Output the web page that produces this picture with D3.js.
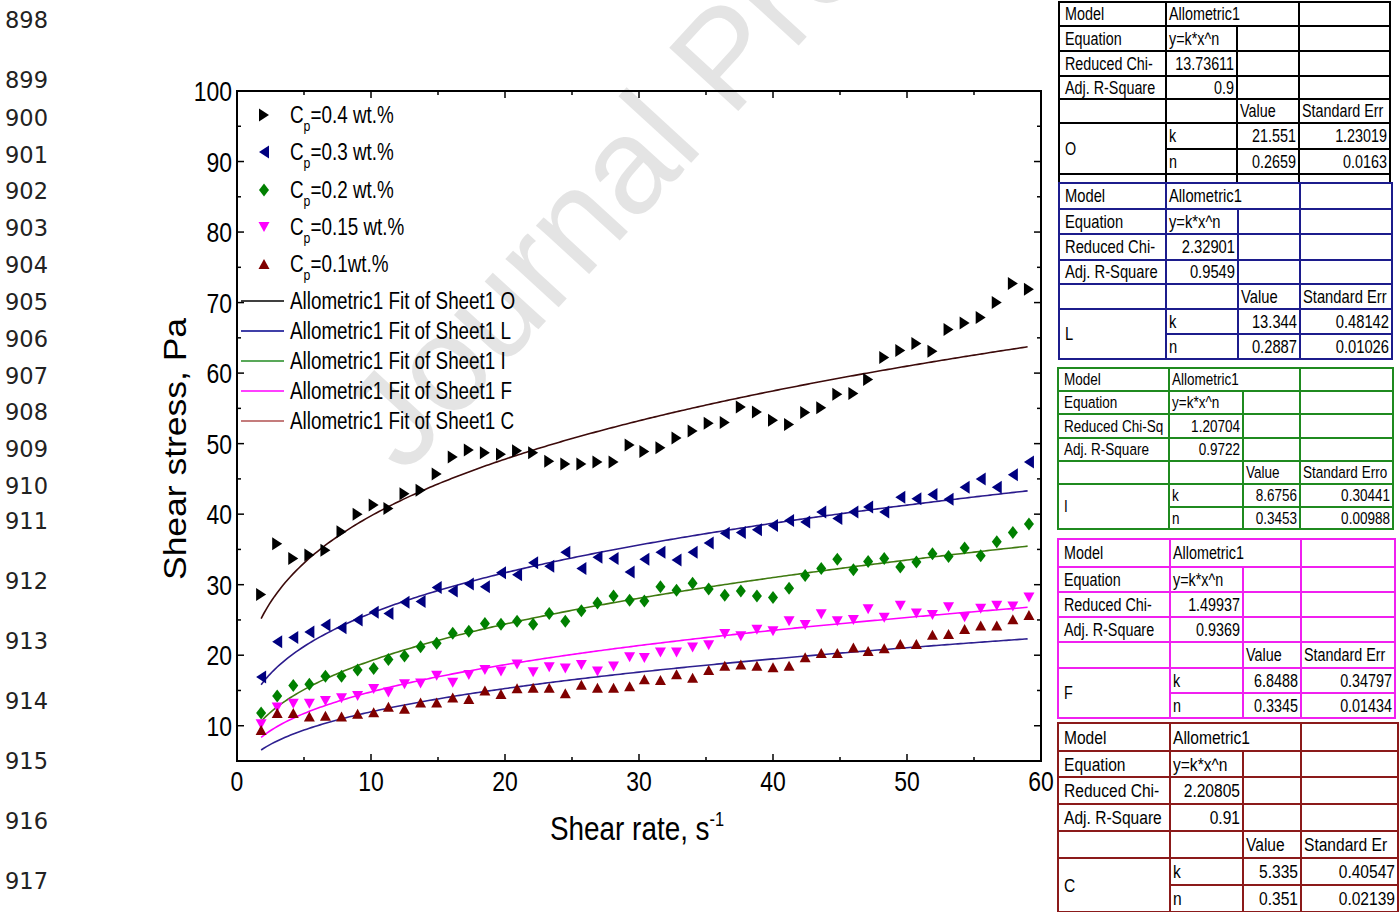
<!DOCTYPE html>
<html>
<head>
<meta charset="utf-8">
<script src="https://cdn.jsdelivr.net/npm/d3@7"></script>
<style>
  body { margin: 0; background: #fff; }
  svg text { font-family: "Liberation Sans", Arial, sans-serif; }
</style>
</head>
<body>
<div id="chart"></div>
<script>
// shear rate values (s^-1), shared by all series
var shearRate = [1.8, 3.0, 4.2, 5.4, 6.6, 7.8, 9.0, 10.2, 11.3, 12.5, 13.7, 14.9, 16.1, 17.3, 18.5,
  19.7, 20.9, 22.1, 23.3, 24.5, 25.7, 26.9, 28.1, 29.3, 30.4, 31.6, 32.8, 34.0, 35.2, 36.4, 37.6,
  38.8, 40.0, 41.2, 42.4, 43.6, 44.8, 46.0, 47.1, 48.3, 49.5, 50.7, 51.9, 53.1, 54.3, 55.5, 56.7,
  57.9, 59.1];

// shear stress (Pa) for each concentration
var stressO = [28.6, 35.8, 33.7, 34.2, 34.9, 37.5, 40.0, 41.3, 40.8, 42.9, 43.4, 45.7, 48.1, 49.1,
  48.7, 48.5, 49.0, 48.7, 47.5, 47.1, 47.1, 47.4, 47.4, 49.8, 48.9, 49.4, 50.8, 51.8, 52.9, 53.0,
  55.2, 54.5, 53.3, 52.7, 54.4, 55.1, 57.0, 57.1, 59.1, 62.2, 63.2, 64.2, 63.1, 66.2, 67.1, 67.9,
  70.0, 72.7, 71.9];
var stressL = [16.9, 21.9, 22.5, 23.3, 24.3, 23.9, 25.0, 26.1, 25.9, 27.5, 27.6, 29.6, 29.1, 30.1,
  29.7, 31.7, 31.4, 33.1, 32.6, 34.6, 32.3, 33.9, 33.7, 31.8, 33.6, 34.6, 33.5, 34.6, 35.9, 37.3,
  37.4, 37.8, 38.4, 39.1, 38.9, 40.3, 39.4, 40.3, 41.0, 40.3, 42.4, 42.2, 42.8, 42.1, 43.8, 45.0,
  43.8, 45.6, 47.4];
var stressI = [11.8, 14.2, 15.7, 15.9, 17.0, 17.0, 17.9, 18.1, 19.4, 19.9, 21.2, 21.7, 23.1, 23.4,
  24.5, 24.4, 24.8, 24.4, 25.9, 24.8, 26.3, 27.4, 28.4, 27.8, 27.7, 29.7, 29.2, 30.2, 29.4, 28.5,
  29.1, 28.4, 28.2, 29.5, 31.3, 32.3, 33.6, 32.1, 33.3, 33.7, 32.5, 33.2, 34.4, 34.0, 35.2, 34.1,
  36.1, 37.4, 38.6];
var stressF = [10.2, 12.6, 13.1, 13.1, 13.5, 13.9, 14.2, 15.2, 14.7, 15.9, 16.0, 17.1, 16.1, 17.2,
  17.9, 17.7, 18.7, 17.6, 18.3, 18.1, 18.6, 17.7, 18.4, 19.7, 19.6, 20.4, 20.4, 21.1, 21.4, 23.0,
  22.7, 23.6, 23.4, 24.8, 24.3, 25.8, 24.8, 25.0, 26.5, 25.3, 27.0, 25.9, 25.7, 26.8, 25.4, 26.6,
  27.0, 26.9, 28.2];
var stressC = [9.4, 11.8, 11.8, 11.3, 11.4, 11.3, 11.7, 11.9, 12.7, 12.4, 13.3, 13.3, 14.0, 13.8,
  15.0, 14.5, 15.3, 15.4, 15.4, 14.6, 15.8, 15.4, 15.4, 15.6, 16.6, 16.5, 17.3, 16.8, 17.9, 18.5,
  18.7, 18.5, 18.3, 18.5, 19.7, 20.3, 20.3, 21.1, 20.6, 21.0, 21.6, 21.6, 22.9, 23.0, 23.7, 24.2,
  24.2, 25.1, 25.7];

var seriesLabels = ["0.4 wt.%", "0.3 wt.%", "0.2 wt.%", "0.15 wt.%", "0.1wt.%"];

// allometric fit results  y = k*x^n
var fitNames = ["O", "L", "I", "F", "C"];
var fitK = [21.551, 13.344, 8.6756, 6.8488, 5.335];
var fitN = [0.2659, 0.2887, 0.3453, 0.3345, 0.351];
var kErr = ["1.23019", "0.48142", "0.30441", "0.34797", "0.40547"];
var nErr = ["0.0163", "0.01026", "0.00988", "0.01434", "0.02139"];
var chiLabel = ["Reduced Chi-", "Reduced Chi-", "Reduced Chi-Sq", "Reduced Chi-", "Reduced Chi-"];
var chiVal = ["13.73611", "2.32901", "1.20704", "1.49937", "2.20805"];
var adjR = ["0.9", "0.9549", "0.9722", "0.9369", "0.91"];
var errHeader = ["Standard Err", "Standard Err", "Standard Erro", "Standard Err", "Standard Er"];

var xTicks = [0, 10, 20, 30, 40, 50, 60];
var yTicks = [10, 20, 30, 40, 50, 60, 70, 80, 90, 100];
var lineNumbers = [898, 899, 900, 901, 902, 903, 904, 905, 906, 907, 908, 909, 910, 911, 912, 913, 914, 915, 916, 917];

// ---- layout ----
var width = 1399, height = 912;
var plotL = 237, plotR = 1041, plotT = 91, plotB = 761;
var narrow = 0.82; // squeeze Liberation Sans to look like Arial Narrow

var svg = d3.select("#chart").append("svg")
  .attr("width", width)
  .attr("height", height);

// text helper: narrow text placed at x, y
function ntext(parent, x, y, size, anchor) {
  return parent.append("text")
    .attr("transform", "translate(" + x + "," + y + ") scale(" + narrow + ",1)")
    .attr("text-anchor", anchor || "start")
    .style("font-size", size + "px");
}

// line numbers from the manuscript page
var lineNumY = [20, 80, 118, 155, 191, 228, 265, 302, 339, 376, 412, 449, 486, 521, 581, 641, 701, 761, 821, 881];
svg.append("g").selectAll("text")
  .data(lineNumbers)
  .enter().append("text")
  .attr("x", 5)
  .attr("y", function(d, i) { return lineNumY[i] + 8; })
  .style("font-family", "'DejaVu Sans', sans-serif")
  .style("font-size", "22.5px")
  .attr("fill", "#222")
  .text(function(d) { return d; });

var xScale = d3.scaleLinear().domain([0, 60]).range([plotL, plotR]);
var yScale = d3.scaleLinear().domain([5, 100]).range([plotB, plotT]);

// watermark
svg.append("text")
  .attr("transform", "translate(404,476) rotate(-47.5)")
  .style("font-size", "136px")
  .attr("fill", "#e4e4e4")
  .text("Journal Pre-proof");

// tick marks pointing inward on all four sides
function tickMarks(vals, major, isX) {
  var g = svg.append("g").attr("stroke", "#000").attr("stroke-width", 1.5);
  vals.forEach(function(v) {
    var len = (major.indexOf(v) >= 0) ? 7 : 4;
    if (isX) {
      var x = xScale(v);
      g.append("line").attr("x1", x).attr("x2", x).attr("y1", plotB).attr("y2", plotB - len);
      g.append("line").attr("x1", x).attr("x2", x).attr("y1", plotT).attr("y2", plotT + len);
    } else {
      var y = yScale(v);
      g.append("line").attr("x1", plotL).attr("x2", plotL + len).attr("y1", y).attr("y2", y);
      g.append("line").attr("x1", plotR).attr("x2", plotR - len).attr("y1", y).attr("y2", y);
    }
  });
}
tickMarks(d3.range(5, 60, 5), xTicks, true);
tickMarks(d3.range(10, 100, 5), yTicks, false);

svg.append("rect")
  .attr("x", plotL).attr("y", plotT)
  .attr("width", plotR - plotL).attr("height", plotB - plotT)
  .attr("fill", "none").attr("stroke", "#000").attr("stroke-width", 2);

var gxl = svg.append("g");
xTicks.forEach(function(d) {
  ntext(gxl, xScale(d), plotB + 30, 28, "middle").text(d);
});
var gyl = svg.append("g");
yTicks.forEach(function(d) {
  ntext(gyl, plotL - 5, yScale(d) + 10, 28, "end").text(d);
});

// axis titles
var xt = ntext(svg, 550, 840, 34);
xt.append("tspan").text("Shear rate, s");
xt.append("tspan").attr("dy", -14).style("font-size", "20px").text("-1");

svg.append("text")
  .attr("transform", "translate(186,449) rotate(-90)")
  .attr("text-anchor", "middle")
  .style("font-size", "31px")
  .attr("textLength", 262)
  .attr("lengthAdjust", "spacingAndGlyphs")
  .text("Shear stress, Pa");

// markers
var markerColor = ["#000000", "#000080", "#008000", "#ff00ff", "#800000"];
var markerPath = [
  "M-5,-6.5L5,0L-5,6.5Z",        // right triangle
  "M5,-6.5L-5,0L5,6.5Z",         // left triangle
  "M0,-6.5L5,0L0,6.5L-5,0Z",     // diamond
  "M-5.5,-5L5.5,-5L0,5Z",        // down triangle
  "M-5.5,5L5.5,5L0,-5Z"          // up triangle
];
var allStress = [stressO, stressL, stressI, stressF, stressC];

// fitted curves
var fitColor = ["#3c0a0a", "#2a1a8c", "#3f7a10", "#ff00ff", "#2e2090"];
var fitLine = d3.line()
  .x(function(d) { return xScale(d[0]); })
  .y(function(d) { return yScale(d[1]); });
var xFine = d3.range(shearRate[0], shearRate[shearRate.length - 1] + 0.001, 0.2);
fitK.forEach(function(k, i) {
  var pts = xFine.map(function(x) { return [x, k * Math.pow(x, fitN[i])]; });
  svg.append("path")
    .attr("d", fitLine(pts))
    .attr("fill", "none")
    .attr("stroke", fitColor[i])
    .attr("stroke-width", 1.6);
});

allStress.forEach(function(series, i) {
  svg.append("g").selectAll("path")
    .data(series).enter().append("path")
    .attr("d", markerPath[i])
    .attr("transform", function(d, j) {
      return "translate(" + xScale(shearRate[j]) + "," + yScale(d) + ")";
    })
    .attr("fill", markerColor[i]);
});

// legend
var legSymY = [115, 152, 190, 227, 264];
var legLineY = [301, 331, 361, 391, 421];
var legLineColor = ["#000000", "#00008b", "#228b22", "#ff00ff", "#b05050"];
seriesLabels.forEach(function(lab, i) {
  svg.append("path")
    .attr("d", markerPath[i])
    .attr("transform", "translate(264," + legSymY[i] + ")")
    .attr("fill", markerColor[i]);
  var t = ntext(svg, 290, legSymY[i] + 8, 23);
  t.append("tspan").text("C");
  t.append("tspan").attr("dy", 8).style("font-size", "15px").text("p");
  t.append("tspan").attr("dy", -8).text("=" + lab);
});
fitNames.forEach(function(nm, i) {
  svg.append("line")
    .attr("x1", 241).attr("x2", 284)
    .attr("y1", legLineY[i]).attr("y2", legLineY[i])
    .attr("stroke", legLineColor[i]).attr("stroke-width", 1.5);
  ntext(svg, 290, legLineY[i] + 8, 23).text("Allometric1 Fit of Sheet1 " + nm);
});

// result tables
var tableX = [[1059, 1166, 1237, 1299, 1390], [1059, 1166, 1238, 1300, 1392], [1058, 1169, 1243, 1300, 1393],
  [1058, 1170, 1243, 1301, 1395], [1058, 1170, 1243, 1301, 1398]];
var tableY = [[2, 26, 51, 76, 99, 123, 149, 174], [183, 209, 234, 260, 284, 309, 334, 359],
  [368, 391, 414, 438, 461, 484, 507, 529], [539, 567, 592, 617, 642, 668, 693, 718],
  [723, 751, 777, 804, 831, 858, 885, 912]];
var tableFont = [17.5, 18, 16.5, 17.5, 19];
var tableColor = ["#000000", "#1c1c8c", "#1f8a1f", "#f020f0", "#8b1a1a"];

function drawTable(i) {
  var X = tableX[i], Y = tableY[i];
  var g = svg.append("g");
  var col = tableColor[i];
  if (i === 0) {
    // a further row cut off by the next table
    X.forEach(function(x) {
      g.append("line").attr("x1", x).attr("x2", x).attr("y1", Y[7]).attr("y2", Y[7] + 10)
        .attr("stroke", col).attr("stroke-width", 2);
    });
  }
  g.append("rect").attr("x", X[0]).attr("y", Y[0])
    .attr("width", X[4] - X[0]).attr("height", Y[7] - Y[0])
    .attr("fill", "#fff").attr("stroke", col).attr("stroke-width", 2);
  for (var r = 1; r < 7; r++) {
    g.append("line")
      .attr("x1", r === 6 ? X[1] : X[0]).attr("x2", X[4])
      .attr("y1", Y[r]).attr("y2", Y[r])
      .attr("stroke", col).attr("stroke-width", 2);
  }
  g.append("line").attr("x1", X[1]).attr("x2", X[1]).attr("y1", Y[0]).attr("y2", Y[7]).attr("stroke", col).attr("stroke-width", 2);
  g.append("line").attr("x1", X[2]).attr("x2", X[2]).attr("y1", Y[1]).attr("y2", Y[7]).attr("stroke", col).attr("stroke-width", 2);
  g.append("line").attr("x1", X[3]).attr("x2", X[3]).attr("y1", Y[0]).attr("y2", Y[7]).attr("stroke", col).attr("stroke-width", 2);

  var fs = tableFont[i];
  function cell(txt, c, r0, r1, align) {
    var yc = (Y[r0] + Y[r1]) / 2 + fs * 0.36;
    var x = align === "end" ? X[c + 1] - 3 : X[c] + (c === 0 ? 6 : 3);
    ntext(g, x, yc, fs, align === "end" ? "end" : "start").attr("fill", "#000").text(txt);
  }
  cell("Model", 0, 0, 1);
  cell("Allometric1", 1, 0, 1);
  cell("Equation", 0, 1, 2);
  cell("y=k*x^n", 1, 1, 2);
  cell(chiLabel[i], 0, 2, 3);
  cell(chiVal[i], 1, 2, 3, "end");
  cell("Adj. R-Square", 0, 3, 4);
  cell(adjR[i], 1, 3, 4, "end");
  cell("Value", 2, 4, 5);
  cell(errHeader[i], 3, 4, 5);
  cell(fitNames[i], 0, 5, 7);
  cell("k", 1, 5, 6);
  cell(String(fitK[i]), 2, 5, 6, "end");
  cell(kErr[i], 3, 5, 6, "end");
  cell("n", 1, 6, 7);
  cell(String(fitN[i]), 2, 6, 7, "end");
  cell(nErr[i], 3, 6, 7, "end");
}
for (var t = 0; t < 5; t++) drawTable(t);
</script>
</body>
</html>
